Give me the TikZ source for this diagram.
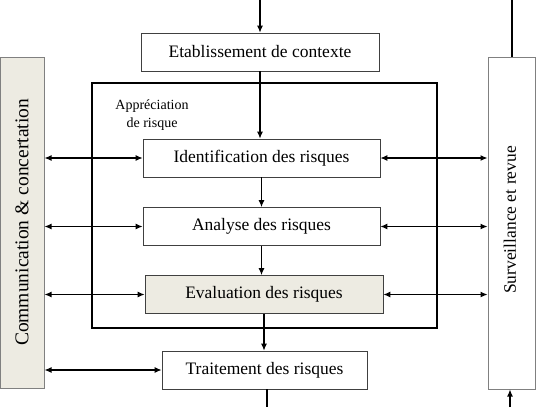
\documentclass[tikz,border=0pt]{standalone}
\usepackage{fontspec}
\setmainfont{Liberation Serif}
\usetikzlibrary{arrows.meta}
\definecolor{beige}{HTML}{EDEBE2}
\definecolor{edgegray}{HTML}{808080}
\begin{document}
\begin{tikzpicture}[x=1pt,y=-1pt,
  stepbox/.style={draw=black!75,line width=0.8pt,minimum height=38pt,inner sep=0pt,font=\fontsize{17.5}{19}\selectfont},
  sidebox/.style={draw=edgegray,line width=1pt,inner sep=0pt},
  arr/.style={line width=1.1pt,-{Latex[length=7pt,width=6pt]}},
  darr/.style={line width=1.1pt,{Latex[length=7pt,width=6pt]}-{Latex[length=7pt,width=6pt]}}]
\useasboundingbox (0,0) rectangle (543,407);
% outer box
\node[draw=black,line width=1.4pt,minimum width=345pt,minimum height=245pt,inner sep=0pt] (outer) at (264.5,205.5) {};
\node[font=\fontsize{14}{18}\selectfont,align=center] (appr) at (152,115) {Appréciation\\de risque};
% side boxes
\node[sidebox,fill=beige,minimum width=44pt,minimum height=331pt] (comm) at (22,222.5) {};
\node[rotate=90,font=\fontsize{19.5}{21}\selectfont] (commt) at (comm.center) {Communication \& concertation};
\node[sidebox,fill=white,minimum width=47pt,minimum height=332pt] (surv) at (511.5,223) {};
\node[rotate=90,font=\fontsize{17.5}{19}\selectfont] (survt) at (510,220) {Surveillance et revue};
% steps
\node[stepbox,minimum width=238pt] (etab) at (260,52) {Etablissement de contexte};
\node[stepbox,minimum width=237pt] (iden) at (261.5,158) {Identification des risques};
\node[stepbox,minimum width=237pt] (anal) at (261.5,226.5) {Analyse des risques};
\node[stepbox,fill=beige,minimum width=238pt] (eval) at (264,294.5) {Evaluation des risques};
\node[stepbox,minimum width=205pt] (trai) at (264.5,370) {Traitement des risques};
% coordinates
\coordinate (top) at (260,0);
\coordinate (bot) at (267,407);
\coordinate (rtop) at (512,0);
\coordinate (rbot) at (510,407);
% vertical arrows
\draw[arr] (top) -- (etab.north);
\draw[arr] (etab.south) -- (iden.north -| etab.south);
\draw[arr] (iden.south) -- (anal.north);
\draw[arr] (anal.south) -- (eval.north -| anal.south);
\draw[arr] (eval.south) -- (trai.north -| eval.south);
\draw[line width=1.1pt] (trai.south -| bot) -- (bot);
\draw[line width=1.1pt] (rtop) -- (surv.north -| rtop);
\draw[arr] (rbot) -- (surv.south -| rbot);
% horizontal arrows
\foreach \n in {iden,anal,eval,trai}{
  \draw[darr] (comm.east |- \n.west) -- (\n.west);
}
\foreach \n in {iden,anal,eval}{
  \draw[darr] (\n.east) -- (surv.west |- \n.east);
}
\end{tikzpicture}
\end{document}
